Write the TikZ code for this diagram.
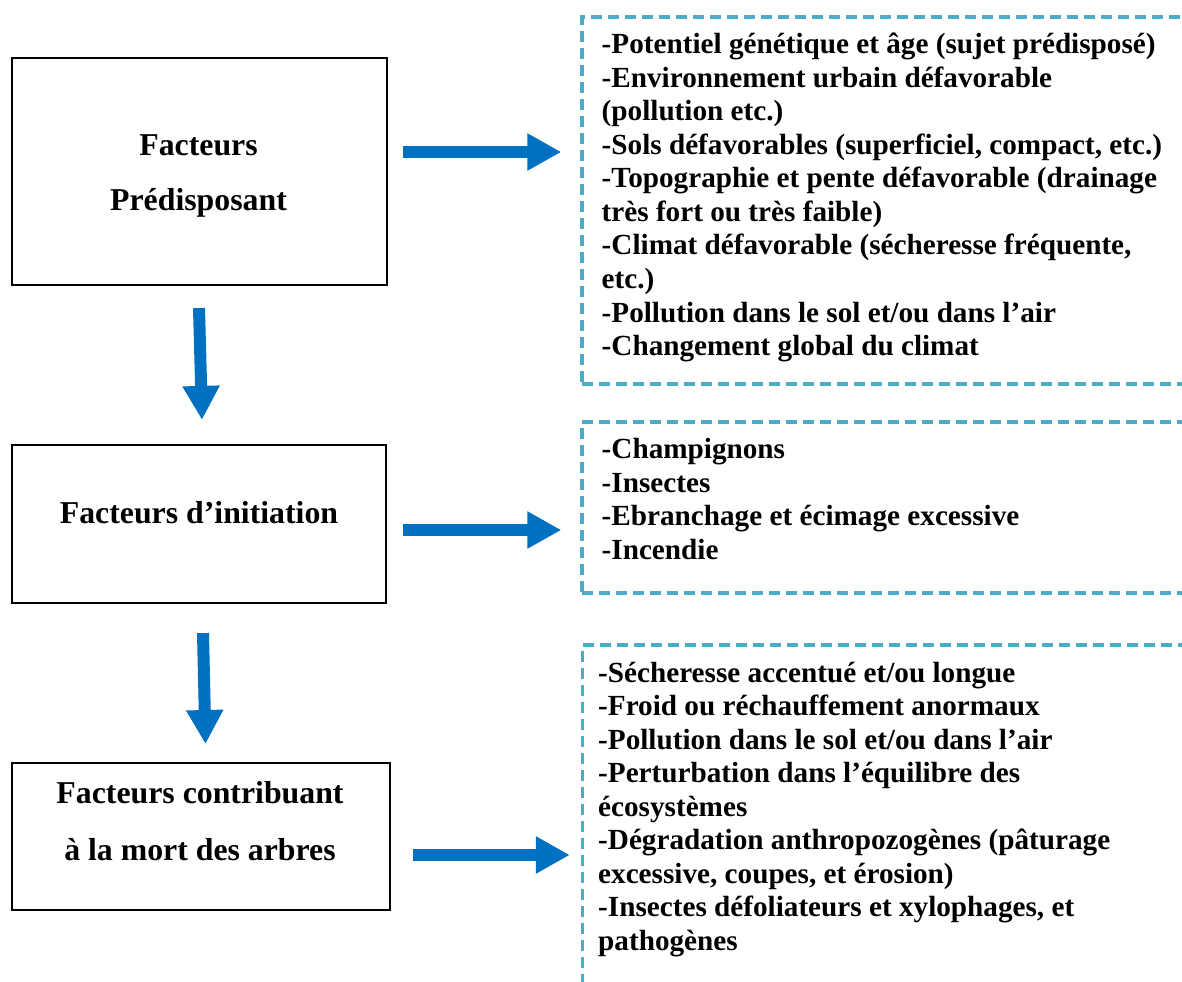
\documentclass[tikz,border=0pt]{standalone}
\usepackage{fontspec}
\setmainfont{Liberation Serif}
\usetikzlibrary{positioning,arrows.meta}
\definecolor{flowblue}{HTML}{0070C0}
\definecolor{frameaqua}{HTML}{4BACC6}

\begin{document}
\begin{tikzpicture}[
  x=0.5pt, y=-0.5pt,
  factbox/.style={draw=black, line width=1.1pt, inner sep=0pt},
  facttxt/.style={font=\fontsize{15.9}{27.5}\selectfont\bfseries, align=center, inner sep=0pt},
  listframe/.style={draw=frameaqua, line width=1.7pt, dash pattern=on 5.5pt off 3pt, minimum width=334pt, inner sep=0pt},
  listtxt/.style={font=\fontsize{14.6}{16.75}\selectfont\bfseries, align=left, inner sep=0pt},
  flow/.style={-{Triangle[width=17.5pt, length=17pt]}, flowblue, line width=6pt}
]
  \useasboundingbox (0,0) rectangle (1182,981);
  \clip (0,0) rectangle (1182,981);

  % factor boxes
  \node[factbox, minimum width=187.5pt, minimum height=113.5pt] (pre) at (199.5,171.5) {};
  \node[factbox, minimum width=187pt, minimum height=79pt] (ini) at (199,524) {};
  \node[factbox, minimum width=189pt, minimum height=73.6pt] (con) at (201,836.4) {};

  \node[facttxt] (preT) at ([shift={(-1,4.7)}]pre.center) {Facteurs\\Prédisposant};
  \node[facttxt] (iniT) at ([shift={(0,-11)}]ini.center) {Facteurs d’initiation};
  \node[facttxt] (conT) at ([shift={(-1,-15.7)}]con.center) {Facteurs contribuant\\[1pt]à la mort des arbres};

  % dashed lists (open to the right)
  \node[listframe, minimum height=183.5pt] (fr1) at (916,200.5) {};
  \node[listframe, minimum height=85.5pt] (fr2) at (916,507.5) {};
  \node[listframe, minimum height=187.5pt] (fr3) at (916.5,832.5) {};

  \node[listtxt, below right=8.85pt and 10.5pt of fr1.north west] (lst1) {%
    -Potentiel génétique et âge (sujet prédisposé)\\
    -Environnement urbain défavorable\\
    (pollution etc.)\\
    -Sols défavorables (superficiel, compact, etc.)\\
    -Topographie et pente défavorable (drainage\\
    très fort ou très faible)\\
    -Climat défavorable (sécheresse fréquente,\\
    etc.)\\
    -Pollution dans le sol et/ou dans l’air\\
    -Changement global du climat};
  \node[listtxt, below right=9pt and 10.5pt of fr2.north west] (lst2) {%
    -Champignons\\
    -Insectes\\
    -Ebranchage et écimage excessive\\
    -Incendie};
  \node[listtxt, below right=9pt and 8.5pt of fr3.north west] (lst3) {%
    -Sécheresse accentué et/ou longue\\
    -Froid ou réchauffement anormaux\\
    -Pollution dans le sol et/ou dans l’air\\
    -Perturbation dans l’équilibre des\\
    écosystèmes\\
    -Dégradation anthropozogènes (pâturage\\
    excessive, coupes, et érosion)\\
    -Insectes défoliateurs et xylophages, et\\
    pathogènes};

  % blue arrows
  \draw[flow] ([shift={(15,-19.5)}]pre.east) -- ([shift={(-19,-48.5)}]fr1.west);
  \draw[flow] ([shift={(16,6)}]ini.east) -- ([shift={(-19,22.5)}]fr2.west);
  \draw[flow] ([shift={(22,18.6)}]con.east) -- ([shift={(-11,22.5)}]fr3.west);
  \draw[flow] ([shift={(-0.5,22)}]pre.south) -- ([shift={(3,-24)}]ini.north);
  \draw[flow] ([shift={(4,29)}]ini.south) -- ([shift={(4.5,-17.7)}]con.north);
\end{tikzpicture}
\end{document}
